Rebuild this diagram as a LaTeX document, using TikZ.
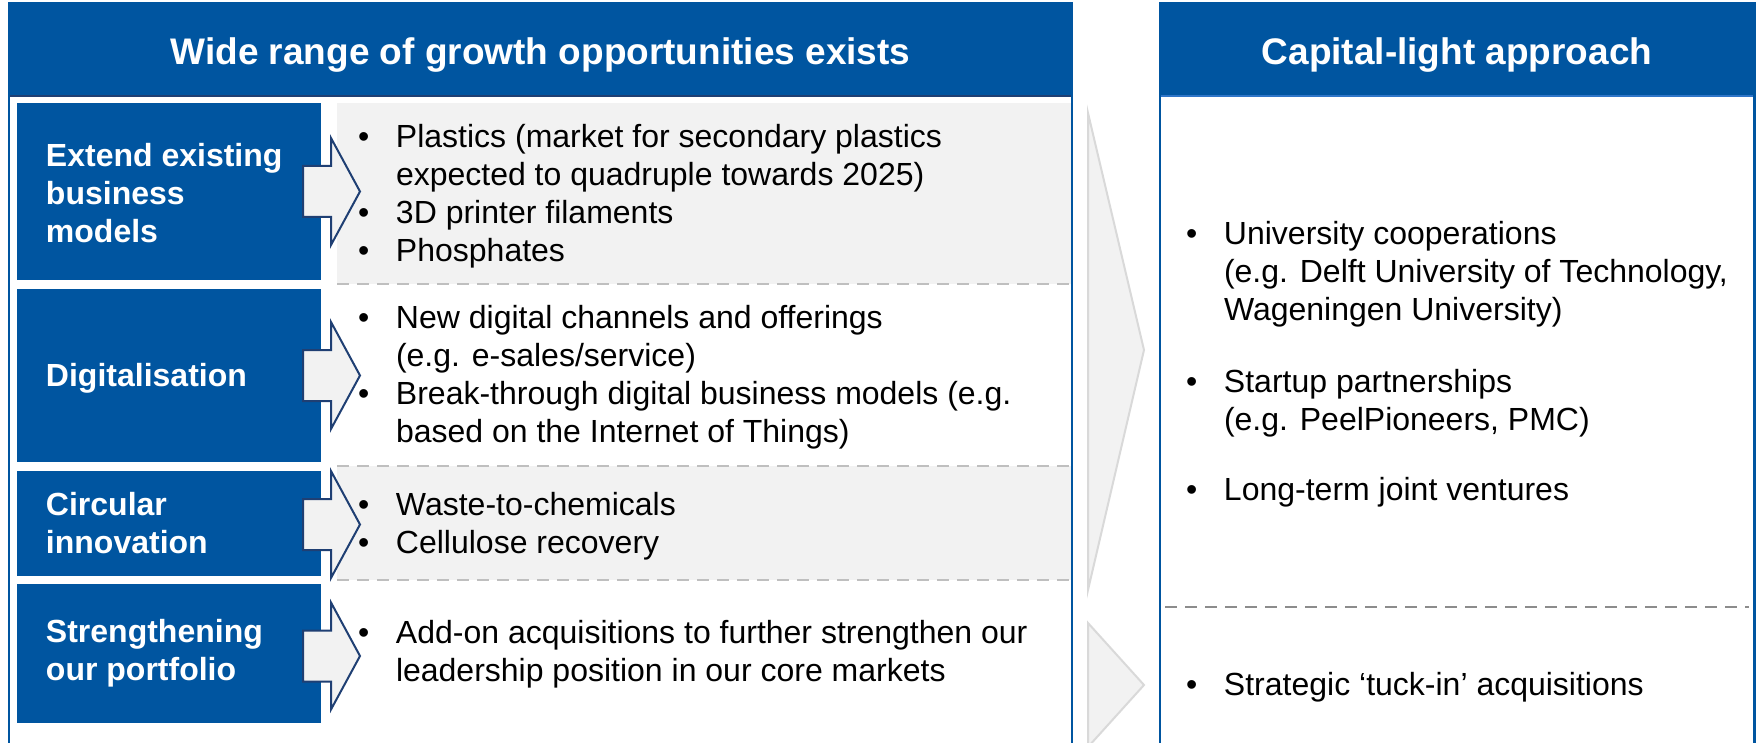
\documentclass[tikz,border=0pt]{standalone}
\usepackage{fontspec}
\setmainfont{Liberation Sans}
\definecolor{cblue}{RGB}{0,85,160}
\definecolor{cgrey}{HTML}{F2F2F2}
\definecolor{cdash}{HTML}{BFBFBF}
\definecolor{cdashb}{HTML}{8C8C8C}
\definecolor{cnavy}{HTML}{1F3F73}
\definecolor{cchev}{HTML}{D9D9D9}
\definecolor{clight}{HTML}{2E75C8}
\newcommand\bul{\makebox[19pt][l]{\textbullet}}
\newcommand\ind{\hspace*{19pt}}
\tikzset{
  every node/.style={inner sep=0pt, outer sep=0pt},
  hdrtext/.style={text=white, font=\fontsize{18.5}{22}\selectfont\bfseries, anchor=base},
  lbl/.style={text=white, font=\fontsize{16}{19}\selectfont\bfseries, align=left, anchor=base west},
  body/.style={text=black, font=\fontsize{16}{19}\selectfont, align=left, anchor=base west},
  panelborder/.style={draw=cblue, line width=1.2pt},
  bluefill/.style={fill=cblue},
  greyfill/.style={fill=cgrey},
  sepline/.style={draw=cdash, line width=1.4pt, dash pattern=on 6pt off 4pt},
  seplineb/.style={draw=cdashb, line width=1.4pt, dash pattern=on 6pt off 4pt},
  arrowline/.style={fill=cgrey, draw=cnavy, line width=1pt, line join=miter},
  chevron/.style={fill=cgrey, draw=cchev, line width=1pt},
  rowarrow/.pic={\path[arrowline] (0,-25.5) -- (28,-25.5) -- (28,-53.5) -- (57,0) -- (28,53.5) -- (28,25.5) -- (0,25.5) -- cycle;}
}
\begin{document}
\begin{tikzpicture}[x=0.5pt,y=-0.5pt]
\path[use as bounding box] (0,0) rectangle (1756,743);
\clip (0,0) rectangle (1756,743);
% content areas
\path[greyfill] (337,103) rectangle (1071,284);
\path[greyfill] (337,466) rectangle (1071,580);
\draw[sepline] (337,284) -- (1071,284);
\draw[sepline] (337,466) -- (1071,466);
\draw[sepline] (337,580) -- (1071,580);
% left blue boxes
\path[bluefill] (17,103) rectangle (321,280);
\path[bluefill] (17,289) rectangle (321,462);
\path[bluefill] (17,471) rectangle (321,576);
\path[bluefill] (17,584) rectangle (321,723);
% headers
\path[bluefill] (9,3) rectangle (1072,97);
\path[bluefill] (1160,3) rectangle (1754.5,97);
\draw[cnavy, line width=1pt] (9,96) -- (1072,96);
\draw[clight, line width=1pt] (1160,96) -- (1754.5,96);
% panel borders
\draw[panelborder] (9,760) -- (9,3) -- (1072,3) -- (1072,760);
\draw[panelborder] (1160,760) -- (1160,3) -- (1754.5,3) -- (1754.5,760);
% row arrows
\pic at (303,191.5) {rowarrow};
\pic at (303,375.5) {rowarrow};
\pic at (303,524.5) {rowarrow};
\pic at (303,656) {rowarrow};
% big chevrons
\path[chevron] (1088,113) -- (1144,350) -- (1088,590) -- cycle;
\path[chevron] (1088,623) -- (1144,685) -- (1088,747) -- cycle;
% right separator
\draw[seplineb] (1165,607) -- (1749,607);
% header texts
\node[hdrtext] (hL) at (540.5,65) {Wide range of growth opportunities exists};
\node[hdrtext] (hR) at (1457,65) {Capital-light approach};
% left labels (anchor = baseline of last line)
\node[lbl] (l1) at (46,243) {Extend existing\\business\\models};
\node[lbl] (l2) at (46,386) {Digitalisation};
\node[lbl] (l3) at (46,553) {Circular\\innovation};
\node[lbl] (l4) at (46,680) {Strengthening\\our portfolio};
% content texts
\node[body] (t1) at (358,261.5) {\bul Plastics (market for secondary plastics\\\ind expected to quadruple towards 2025)\\\bul 3D printer filaments\\\bul Phosphates};
\node[body] (t2) at (358,442) {\bul New digital channels and offerings\\\ind (e.g. e-sales/service)\\\bul Break-through digital business models (e.g.\\\ind based on the Internet of Things)};
\node[body] (t3) at (358,553) {\bul Waste-to-chemicals\\\bul Cellulose recovery};
\node[body] (t4) at (358,681) {\bul Add-on acquisitions to further strengthen our\\\ind leadership position in our core markets};
% right texts
\node[body] (r1) at (1186,321) {\bul University cooperations\\\ind (e.g. Delft University of Technology,\\\ind Wageningen University)};
\node[body] (r2) at (1186,430) {\bul Startup partnerships\\\ind (e.g. PeelPioneers, PMC)};
\node[body] (r3) at (1186,500) {\bul Long-term joint ventures};
\node[body] (r4) at (1186,695) {\bul Strategic ‘tuck-in’ acquisitions};
\end{tikzpicture}
\end{document}
